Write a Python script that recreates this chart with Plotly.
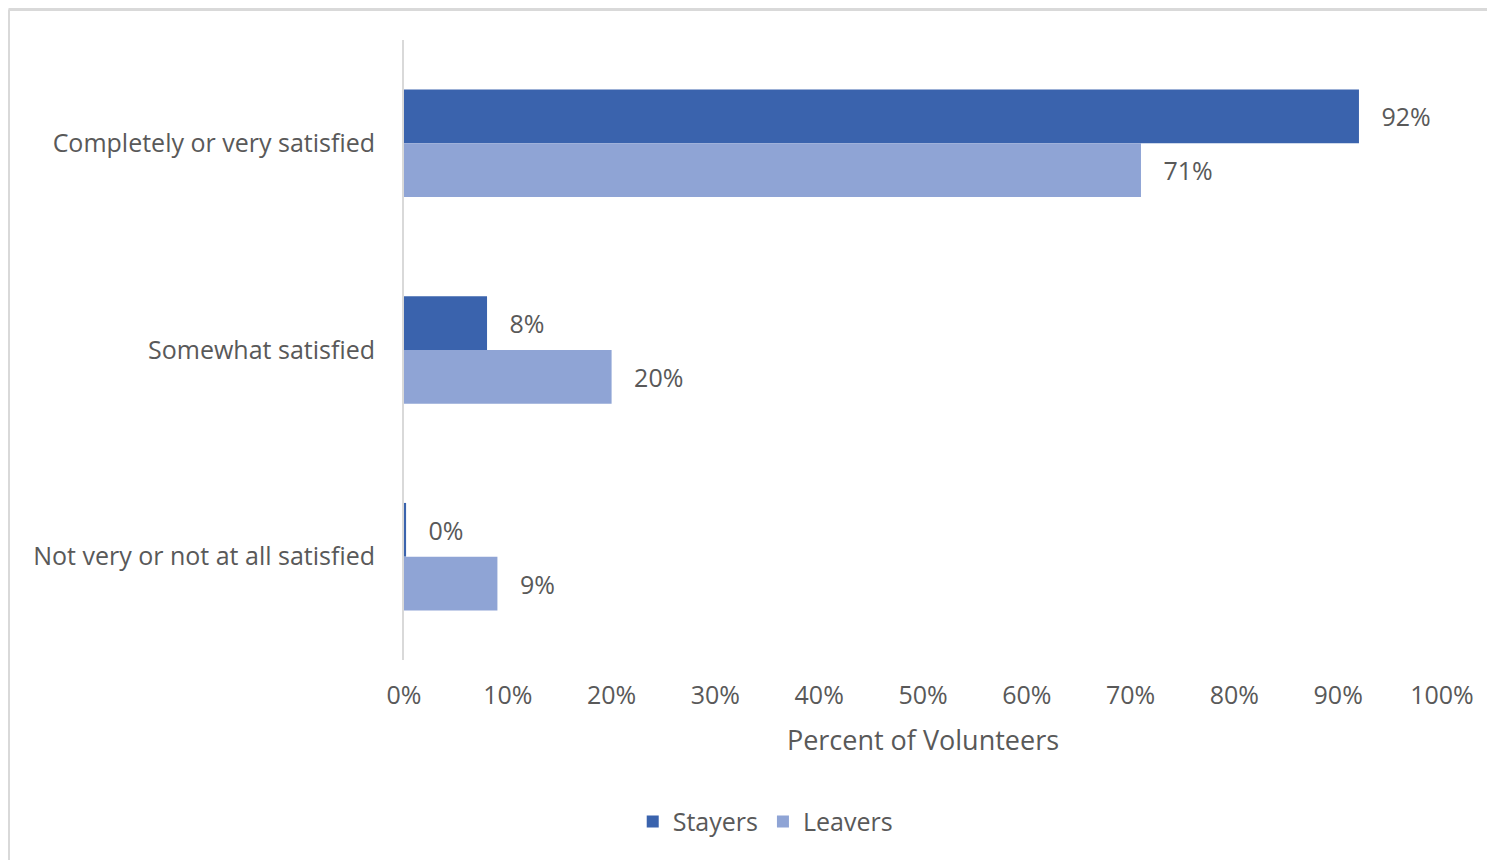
import plotly.graph_objects as go

categories = ["Completely or very satisfied", "Somewhat satisfied", "Not very or not at all satisfied"]
stayers = [92, 8, 0.2]
leavers = [71, 20, 9]
x_ticks = [0, 10, 20, 30, 40, 50, 60, 70, 80, 90, 100]
x_tick_labels = [f"{v}%" for v in x_ticks]

FONT = "Open Sans, Noto Sans, sans-serif"
GRAY = "#595959"
PAD = "\u00a0\u00a0\u00a0"

fig = go.Figure()
fig.add_trace(go.Bar(
    y=categories, x=stayers, name="Stayers", orientation="h",
    marker=dict(color="#3A63AD", line=dict(width=0)),
    texttemplate=PAD + "%{x:.0f}%", textposition="outside",
    textfont=dict(color=GRAY, size=25, family=FONT), cliponaxis=False,
))
fig.add_trace(go.Bar(
    y=categories, x=leavers, name="Leavers", orientation="h",
    marker=dict(color="#8FA4D5", line=dict(width=0)),
    texttemplate=PAD + "%{x:.0f}%", textposition="outside",
    textfont=dict(color=GRAY, size=25, family=FONT), cliponaxis=False,
))

def px_x(p):
    return (p - 404) / 1038

def px_y(p):
    return (660 - p) / 620

border = dict(color="#D9D9D9", width=3)

# page has an 8px body offset; plot area targets page px 404..1442 x 40..660
fig.update_layout(
    width=1495, height=860,
    margin=dict(l=396, r=61, t=32, b=208),
    paper_bgcolor="white", plot_bgcolor="white",
    barmode="group", bargap=0.48, bargroupgap=0,
    font=dict(family=FONT, color=GRAY, size=25),
    showlegend=True,
    legend=dict(orientation="h", x=0.348, xanchor="center", y=-0.261, yanchor="middle",
                font=dict(size=25, color=GRAY), itemwidth=30, traceorder="normal"),
    xaxis=dict(range=[0, 100], tickvals=x_ticks, ticktext=x_tick_labels,
               showgrid=False, zeroline=False, showline=False, ticks="",
               ticklabelstandoff=18,
               tickfont=dict(size=25, color=GRAY),
               title=dict(text="Percent of Volunteers", font=dict(size=27, color=GRAY), standoff=21)),
    yaxis=dict(categoryorder="array", categoryarray=categories, autorange="reversed",
               showgrid=False, zeroline=False, showline=True, linecolor="#D9D9D9", linewidth=2,
               ticks="", ticklabelstandoff=22, tickfont=dict(size=25, color=GRAY)),
    shapes=[
        dict(type="line", xref="paper", yref="paper",
             x0=px_x(8.5), x1=px_x(1500), y0=px_y(9.5), y1=px_y(9.5), line=border, layer="below"),
        dict(type="line", xref="paper", yref="paper",
             x0=px_x(8.5), x1=px_x(8.5), y0=px_y(9.5), y1=px_y(870), line=border, layer="below"),
    ],
)

fig.write_html("out.html")
